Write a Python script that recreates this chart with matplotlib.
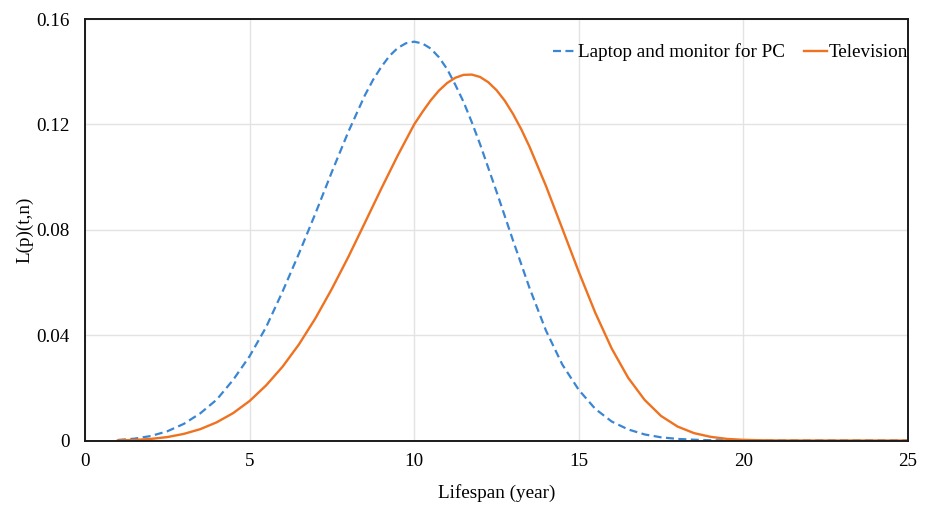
import matplotlib
matplotlib.use("Agg")
import matplotlib.pyplot as plt

# Laptop and monitor for PC: lifespan (years) and L(p)(t,n)
laptop_years = [1.0, 1.5, 2.0, 2.5, 3.0, 3.5, 4.0, 4.5, 5.0, 5.5, 6.0, 6.5, 7.0, 7.5,
                8.0, 8.5, 8.75, 9.0, 9.25, 9.5, 9.75, 10.0, 10.25, 10.5, 10.75, 11.0,
                11.25, 11.5, 11.75, 12.0, 12.5, 13.0, 13.5, 14.0, 14.5, 15.0, 15.5,
                16.0, 16.5, 17.0, 17.5, 18.0, 18.5, 19.0, 19.5, 20.0, 21.0, 22.0,
                23.0, 24.0, 25.0]
laptop_pc = [0.0002, 0.0007, 0.0017, 0.0035, 0.0063, 0.0103, 0.0155, 0.0230,
             0.0320, 0.0430, 0.0565, 0.0710, 0.0862, 0.1020, 0.1172, 0.1310,
             0.1369, 0.1418, 0.1460, 0.1490, 0.1508, 0.1514, 0.1507, 0.1488,
             0.1455, 0.1410, 0.1350, 0.1285, 0.1208, 0.1125, 0.0945, 0.0760,
             0.0580, 0.0418, 0.0288, 0.0192, 0.0120, 0.0072, 0.0042, 0.0023,
             0.0012, 0.0006, 0.0003, 0.0001, 0.00005, 0.0, 0.0, 0.0, 0.0, 0.0, 0.0]

# Television: lifespan (years) and L(p)(t,n)
tv_years = [1.0, 1.5, 2.0, 2.5, 3.0, 3.5, 4.0, 4.5, 5.0, 5.5, 6.0, 6.5, 7.0, 7.5,
            8.0, 8.5, 9.0, 9.5, 9.75, 10.0, 10.25, 10.5, 10.75, 11.0, 11.25, 11.5,
            11.75, 12.0, 12.25, 12.5, 12.75, 13.0, 13.25, 13.5, 14.0, 14.5, 15.0,
            15.5, 16.0, 16.5, 17.0, 17.5, 18.0, 18.5, 19.0, 19.5, 20.0, 20.5, 21.0,
            22.0, 23.0, 24.0, 25.0]
television = [0.00005, 0.0002, 0.0006, 0.0013, 0.0025, 0.0043, 0.0069, 0.0104,
              0.0150, 0.0209, 0.0280, 0.0365, 0.0464, 0.0576, 0.0697, 0.0826,
              0.0956, 0.1082, 0.1141, 0.1200, 0.1247, 0.1291, 0.1328, 0.1357,
              0.1377, 0.1388, 0.1389, 0.1380, 0.1360, 0.1330, 0.1290, 0.1240,
              0.1182, 0.1116, 0.0967, 0.0804, 0.0640, 0.0485, 0.0349, 0.0238,
              0.0154, 0.0093, 0.0053, 0.0028, 0.0014, 0.0006, 0.00025, 0.0001,
              0.00003, 0.0, 0.0, 0.0, 0.0]

x_ticks = [0, 5, 10, 15, 20, 25]
y_ticks = [0, 0.04, 0.08, 0.12, 0.16]
y_tick_labels = ["0", "0.04", "0.08", "0.12", "0.16"]

plt.rcParams['font.family'] = ['Liberation Serif', 'DejaVu Serif']
FS = 13.8

fig = plt.figure(figsize=(9.28, 5.05), dpi=100)
ax = fig.add_axes([85 / 928, 1 - 440.5 / 505, (908 - 85) / 928, (440.5 - 19) / 505])

ax.plot(laptop_years, laptop_pc, color='#3b86d3', lw=1.6, linestyle=(0, (3.6, 2.0)),
        label='Laptop and monitor for PC')
ax.plot(tv_years, television, color='#ef7221', lw=1.7, label='Television')

ax.set_xlim(0, 25)
ax.set_ylim(0, 0.16)
ax.set_xticks(x_ticks)
ax.set_yticks(y_ticks)
ax.set_yticklabels(y_tick_labels)
ax.tick_params(axis='both', length=0, labelsize=FS, colors='black')
ax.tick_params(axis='y', pad=11)
ax.tick_params(axis='x', pad=9)
ax.grid(True, color='#e3e3e3', lw=1.0)
ax.set_axisbelow(True)
for s in ax.spines.values():
    s.set_color('#1a1a1a')
    s.set_linewidth(1.4)

ax.set_xlabel('Lifespan (year)', fontsize=FS, labelpad=10)
ax.set_ylabel('L(p)(t,n)', fontsize=FS, labelpad=2)

leg = ax.legend(loc='upper right', bbox_to_anchor=(1.012, 0.965), ncol=2, frameon=False,
                fontsize=FS, handlelength=1.2, handletextpad=0.1, columnspacing=1.0,
                borderaxespad=0.1)

fig.savefig('out.png', dpi=100)
